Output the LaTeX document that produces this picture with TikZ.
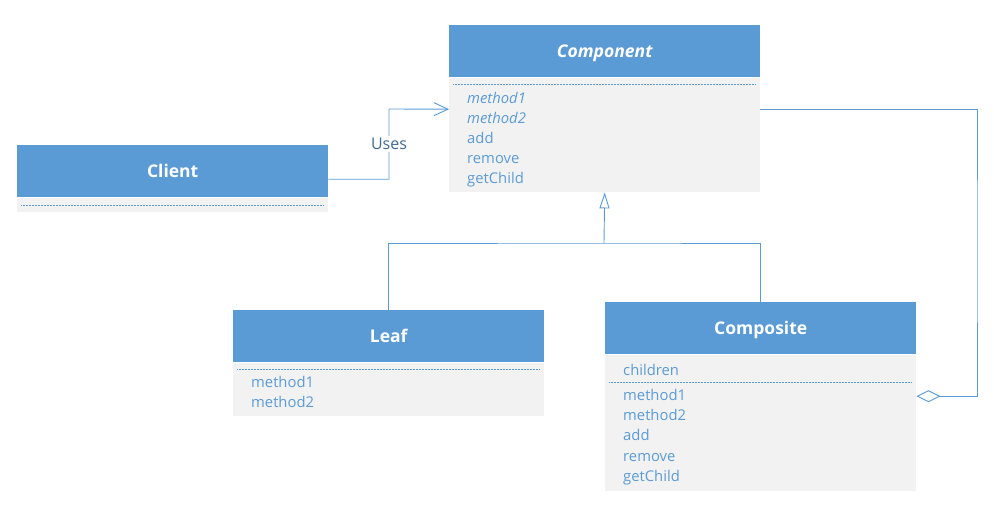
\documentclass[tikz,border=0pt]{standalone}
\usepackage{fontspec}
\setmainfont{Open Sans}
\usetikzlibrary{arrows.meta,calc}
\definecolor{hdrblue}{HTML}{5B9BD5}
\definecolor{bodygray}{HTML}{F2F2F2}
\definecolor{usestext}{HTML}{44688F}
\tikzset{
  hdr/.style={fill=hdrblue, draw=none, text=white, font=\fontsize{17.5}{20}\selectfont\bfseries, minimum width=311pt, minimum height=52pt, anchor=north west, inner sep=0pt, text height=12.5pt, text depth=0pt},
  bodybox/.style={fill=bodygray, draw=none, minimum width=311pt, anchor=north west, inner sep=0pt},
  item/.style={text=hdrblue, font=\fontsize{14.8}{16}\selectfont, anchor=west, inner sep=0pt, text height=11pt, text depth=3pt, yshift=-2pt},
  sep/.style={hdrblue, densely dotted, line width=0.5pt},
  conn/.style={hdrblue, line width=0.9pt},
}
\begin{document}
\begin{tikzpicture}[x=1pt,y=-1pt]
\useasboundingbox (0,0) rectangle (994,511);
% Component
\node[hdr] (compH) at (449,25) {\itshape Component};
\node[bodybox, minimum height=114pt] (compB) at (449,78) {};
\draw[sep] (453,84) -- (756,84);
\node[item] (c1) at (467,97) {\itshape method1};
\node[item] (c2) at (467,117) {\itshape method2};
\node[item] (c3) at (467,137) {add};
\node[item] (c4) at (467,157) {remove};
\node[item] (c5) at (467,177) {getChild};
% Client
\node[hdr] (clientH) at (17,145) {Client};
\node[bodybox, minimum height=14pt] (clientB) at (17,198) {};
\draw[sep] (21,205) -- (324,205);
% Leaf
\node[hdr] (leafH) at (233,310) {Leaf};
\node[bodybox, minimum height=53pt] (leafB) at (233,363) {};
\draw[sep] (237,369) -- (540,369);
\node[item] (l1) at (251,381) {method1};
\node[item] (l2) at (251,401) {method2};
% Composite
\node[hdr] (compoH) at (605,302) {Composite};
\node[bodybox, minimum height=136pt] (compoB) at (605,355) {};
\node[item] (k0) at (623,369) {children};
\draw[sep] (609,382) -- (912,382);
\node[item] (k1) at (623,394) {method1};
\node[item] (k2) at (623,414) {method2};
\node[item] (k3) at (623,434) {add};
\node[item] (k4) at (623,455) {remove};
\node[item] (k5) at (623,475) {getChild};
% Uses
\coordinate (usesTurn) at (389,109);
\draw[conn, -{Straight Barb[length=14pt,width=13pt]}]
  ([yshift=-8pt]clientH.east) -| node[pos=0.75, fill=white, inner sep=2pt, text=usestext, font=\fontsize{16}{18}\selectfont] {Uses} (usesTurn) -- ([yshift=26pt]compB.west);
% Generalization
\coordinate (joint) at (604,243);
\draw[conn] (leafH.north) |- (joint) -| (compoH.north);
\draw[conn, -{Triangle[open,length=16pt,width=10pt]}] (joint) -- (compB.south);
% Aggregation
\coordinate (aggCorner) at (977,250);
\draw[conn, {Diamond[open,length=24pt,width=12pt]}-] ([yshift=27pt]compoB.east) -| (aggCorner) |- ([yshift=26pt]compB.east);
\end{tikzpicture}
\end{document}
